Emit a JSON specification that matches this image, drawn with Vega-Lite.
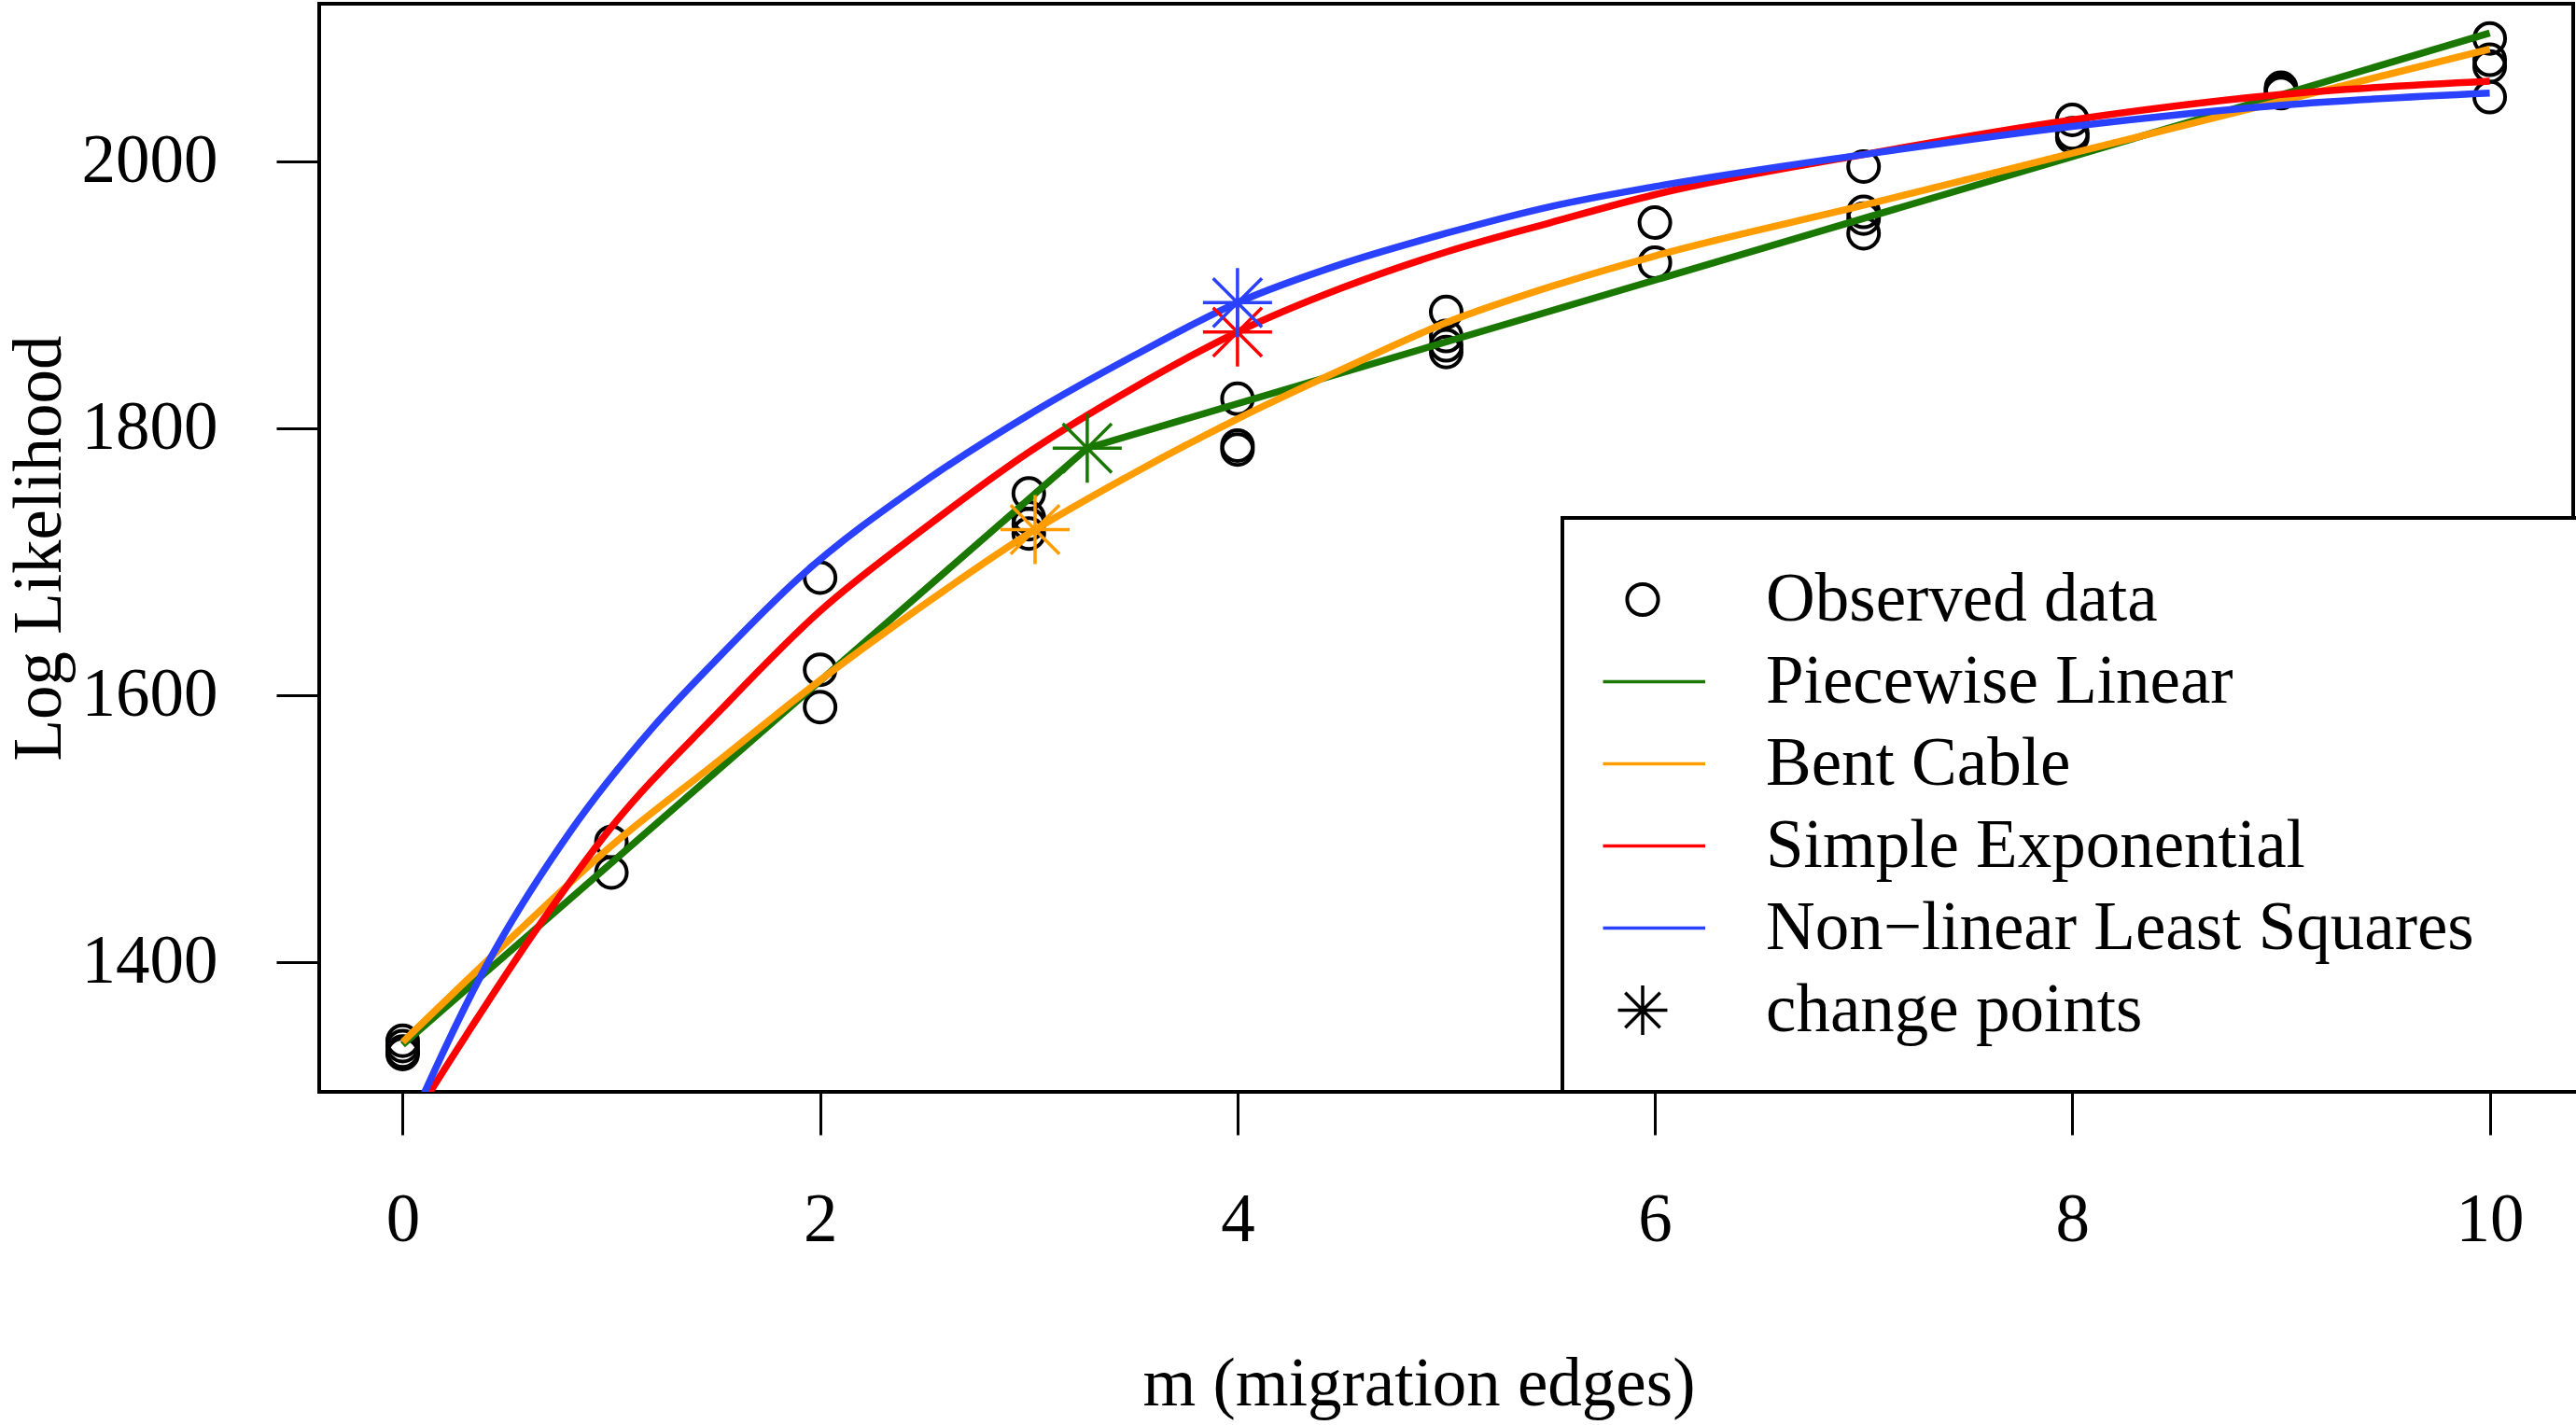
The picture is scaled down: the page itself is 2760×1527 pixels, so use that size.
{
  "$schema": "https://vega.github.io/schema/vega-lite/v6.json",
  "width": 2415,
  "height": 1166,
  "autosize": {"type": "none"},
  "padding": {"left": 342, "top": 4, "right": 3, "bottom": 357},
  "background": "white",
  "config": {
    "font": "Liberation Serif",
    "view": {"stroke": "black", "strokeWidth": 4},
    "axis": {
      "domain": false,
      "grid": false,
      "tickSize": 46,
      "tickWidth": 3,
      "tickColor": "black",
      "labelFont": "Liberation Serif",
      "labelFontSize": 73,
      "labelColor": "black",
      "labelFlush": false,
      "labelOverlap": false,
      "titleFont": "Liberation Serif",
      "titleFontSize": 73,
      "titleFontWeight": "normal",
      "titleColor": "black"
    }
  },
  "datasets": {
    "observed": [
      {"series": "Observed data", "m": 0, "ll": 1341},
      {"series": "Observed data", "m": 0, "ll": 1337},
      {"series": "Observed data", "m": 0, "ll": 1333},
      {"series": "Observed data", "m": 0, "ll": 1331},
      {"series": "Observed data", "m": 1, "ll": 1490},
      {"series": "Observed data", "m": 1, "ll": 1467},
      {"series": "Observed data", "m": 2, "ll": 1688},
      {"series": "Observed data", "m": 2, "ll": 1619},
      {"series": "Observed data", "m": 2, "ll": 1591},
      {"series": "Observed data", "m": 3, "ll": 1751},
      {"series": "Observed data", "m": 3, "ll": 1733},
      {"series": "Observed data", "m": 3, "ll": 1728},
      {"series": "Observed data", "m": 3, "ll": 1721},
      {"series": "Observed data", "m": 4, "ll": 1822},
      {"series": "Observed data", "m": 4, "ll": 1787},
      {"series": "Observed data", "m": 4, "ll": 1784},
      {"series": "Observed data", "m": 5, "ll": 1887},
      {"series": "Observed data", "m": 5, "ll": 1869},
      {"series": "Observed data", "m": 5, "ll": 1862},
      {"series": "Observed data", "m": 5, "ll": 1857},
      {"series": "Observed data", "m": 6, "ll": 1954},
      {"series": "Observed data", "m": 6, "ll": 1924},
      {"series": "Observed data", "m": 7, "ll": 1996},
      {"series": "Observed data", "m": 7, "ll": 1962},
      {"series": "Observed data", "m": 7, "ll": 1957},
      {"series": "Observed data", "m": 7, "ll": 1946},
      {"series": "Observed data", "m": 8, "ll": 2031},
      {"series": "Observed data", "m": 8, "ll": 2021},
      {"series": "Observed data", "m": 8, "ll": 2018},
      {"series": "Observed data", "m": 9, "ll": 2055},
      {"series": "Observed data", "m": 9, "ll": 2053},
      {"series": "Observed data", "m": 9, "ll": 2051},
      {"series": "Observed data", "m": 10, "ll": 2092},
      {"series": "Observed data", "m": 10, "ll": 2076},
      {"series": "Observed data", "m": 10, "ll": 2071},
      {"series": "Observed data", "m": 10, "ll": 2048}
    ],
    "fits": [
      {"series": "Piecewise Linear", "m": 0, "ll": 1338},
      {"series": "Piecewise Linear", "m": 3.28, "ll": 1785},
      {"series": "Piecewise Linear", "m": 10, "ll": 2096},
      {"series": "Bent Cable", "m": 0, "ll": 1340},
      {"series": "Bent Cable", "m": 0.5, "ll": 1415},
      {"series": "Bent Cable", "m": 1, "ll": 1487},
      {"series": "Bent Cable", "m": 1.5, "ll": 1549},
      {"series": "Bent Cable", "m": 2, "ll": 1611},
      {"series": "Bent Cable", "m": 2.5, "ll": 1668},
      {"series": "Bent Cable", "m": 3, "ll": 1721},
      {"series": "Bent Cable", "m": 3.5, "ll": 1766},
      {"series": "Bent Cable", "m": 4, "ll": 1807},
      {"series": "Bent Cable", "m": 4.5, "ll": 1844},
      {"series": "Bent Cable", "m": 5, "ll": 1879},
      {"series": "Bent Cable", "m": 5.5, "ll": 1906},
      {"series": "Bent Cable", "m": 6, "ll": 1929},
      {"series": "Bent Cable", "m": 7, "ll": 1967},
      {"series": "Bent Cable", "m": 8, "ll": 2006},
      {"series": "Bent Cable", "m": 9, "ll": 2045},
      {"series": "Bent Cable", "m": 10, "ll": 2084},
      {"series": "Simple Exponential", "m": 0, "ll": 1270},
      {"series": "Simple Exponential", "m": 0.3, "ll": 1344},
      {"series": "Simple Exponential", "m": 0.63, "ll": 1422},
      {"series": "Simple Exponential", "m": 1, "ll": 1501},
      {"series": "Simple Exponential", "m": 1.5, "ll": 1585},
      {"series": "Simple Exponential", "m": 2, "ll": 1663},
      {"series": "Simple Exponential", "m": 2.5, "ll": 1725},
      {"series": "Simple Exponential", "m": 3, "ll": 1782},
      {"series": "Simple Exponential", "m": 3.5, "ll": 1830},
      {"series": "Simple Exponential", "m": 4, "ll": 1872},
      {"series": "Simple Exponential", "m": 4.5, "ll": 1905},
      {"series": "Simple Exponential", "m": 5, "ll": 1932},
      {"series": "Simple Exponential", "m": 5.5, "ll": 1954},
      {"series": "Simple Exponential", "m": 6, "ll": 1975},
      {"series": "Simple Exponential", "m": 7, "ll": 2005},
      {"series": "Simple Exponential", "m": 8, "ll": 2031},
      {"series": "Simple Exponential", "m": 9, "ll": 2050},
      {"series": "Simple Exponential", "m": 10, "ll": 2060},
      {"series": "Non−linear Least Squares", "m": 0, "ll": 1266},
      {"series": "Non−linear Least Squares", "m": 0.4, "ll": 1397},
      {"series": "Non−linear Least Squares", "m": 0.8, "ll": 1497},
      {"series": "Non−linear Least Squares", "m": 1.2, "ll": 1576},
      {"series": "Non−linear Least Squares", "m": 1.5, "ll": 1626},
      {"series": "Non−linear Least Squares", "m": 1.9, "ll": 1688},
      {"series": "Non−linear Least Squares", "m": 2.5, "ll": 1760},
      {"series": "Non−linear Least Squares", "m": 3, "ll": 1810},
      {"series": "Non−linear Least Squares", "m": 3.5, "ll": 1854},
      {"series": "Non−linear Least Squares", "m": 4, "ll": 1894},
      {"series": "Non−linear Least Squares", "m": 4.5, "ll": 1923},
      {"series": "Non−linear Least Squares", "m": 5, "ll": 1946},
      {"series": "Non−linear Least Squares", "m": 5.5, "ll": 1966},
      {"series": "Non−linear Least Squares", "m": 6, "ll": 1981},
      {"series": "Non−linear Least Squares", "m": 7, "ll": 2005},
      {"series": "Non−linear Least Squares", "m": 8, "ll": 2026},
      {"series": "Non−linear Least Squares", "m": 9, "ll": 2042},
      {"series": "Non−linear Least Squares", "m": 10, "ll": 2051}
    ],
    "changes": [
      {"series": "Piecewise Linear", "m": 3.28, "ll": 1785},
      {"series": "Bent Cable", "m": 3.03, "ll": 1724},
      {"series": "Simple Exponential", "m": 4, "ll": 1872},
      {"series": "Non−linear Least Squares", "m": 4, "ll": 1894}
    ]
  },
  "encoding": {
    "x": {
      "field": "m",
      "type": "quantitative",
      "scale": {"domain": [-0.4, 10.4], "nice": false, "zero": false},
      "axis": {
        "values": [0, 2, 4, 6, 8, 10],
        "labelPadding": 55,
        "title": "m (migration edges)",
        "titleX": 1178,
        "titleY": 277,
        "titleBaseline": "top"
      }
    },
    "y": {
      "field": "ll",
      "type": "quantitative",
      "scale": {"domain": [1302.7, 2118], "nice": false, "zero": false},
      "axis": {
        "values": [1400, 1600, 1800, 2000],
        "format": "d",
        "labelAngle": 0,
        "labelPadding": 63,
        "title": "Log Likelihood",
        "titleX": -263,
        "titleY": 583,
        "titleAngle": -90,
        "titleAlign": "center",
        "titleBaseline": "bottom"
      }
    },
    "color": {
      "field": "series",
      "type": "nominal",
      "scale": {
        "domain": ["Observed data", "Piecewise Linear", "Bent Cable", "Simple Exponential", "Non−linear Least Squares", "change points"],
        "range": ["black", "#1a7700", "#ff9d00", "#ff0000", "#2a41ff", "black"]
      },
      "legend": {
        "orient": "none",
        "legendX": 1332,
        "legendY": 551,
        "title": ".",
        "titleOpacity": 0,
        "titleOrient": "right",
        "titlePadding": 52,
        "titleFontSize": 73,
        "padding": 43.5,
        "fillColor": "white",
        "strokeColor": "black",
        "labelFont": "Liberation Serif",
        "labelFontSize": 73,
        "labelColor": "black",
        "labelOffset": 95.5,
        "symbolOffset": 6,
        "labelLimit": 2000,
        "clipHeight": 88,
        "rowPadding": 0,
        "symbolSize": 17956,
        "symbolStrokeWidth": 3.5,
        "encode": {
          "legend": {"update": {"strokeWidth": {"value": 4}}},
          "symbols": {
            "update": {
              "shape": {"signal": "datum.value === 'Observed data' ? 'circle' : datum.value === 'change points' ? 'M-1,0L1,0M0,-1L0,1M-0.7071,-0.7071L0.7071,0.7071M-0.7071,0.7071L0.7071,-0.7071' : 'stroke'"},
              "size": {"signal": "datum.value === 'Observed data' ? 1100 : datum.value === 'change points' ? 2800 : 17956"},
              "strokeWidth": {"signal": "datum.value === 'Observed data' ? 4 : 3.5"},
              "fill": {"value": "transparent"},
              "opacity": {"value": 1}
            }
          }
        }
      }
    }
  },
  "layer": [
    {
      "data": {"name": "observed"},
      "mark": {"type": "point", "shape": "circle", "filled": false, "size": 1089, "strokeWidth": 4, "opacity": 1}
    },
    {
      "data": {"name": "fits"},
      "transform": [{"filter": "datum.series === 'Piecewise Linear'"}],
      "mark": {"type": "line", "strokeWidth": 7.5, "clip": true}
    },
    {
      "data": {"name": "fits"},
      "transform": [{"filter": "datum.series === 'Bent Cable'"}],
      "mark": {"type": "line", "strokeWidth": 7.5, "interpolate": "monotone", "clip": true}
    },
    {
      "data": {"name": "fits"},
      "transform": [{"filter": "datum.series === 'Simple Exponential'"}],
      "mark": {"type": "line", "strokeWidth": 7.5, "interpolate": "monotone", "clip": true}
    },
    {
      "data": {"name": "fits"},
      "transform": [{"filter": "datum.series === 'Non−linear Least Squares'"}],
      "mark": {"type": "line", "strokeWidth": 7.5, "interpolate": "monotone", "clip": true}
    },
    {
      "data": {"name": "changes"},
      "mark": {"type": "point", "shape": "M-1,0L1,0M0,-1L0,1M-0.7071,-0.7071L0.7071,0.7071M-0.7071,0.7071L0.7071,-0.7071", "filled": false, "size": 5476, "strokeWidth": 3.5, "opacity": 1}
    }
  ]
}
